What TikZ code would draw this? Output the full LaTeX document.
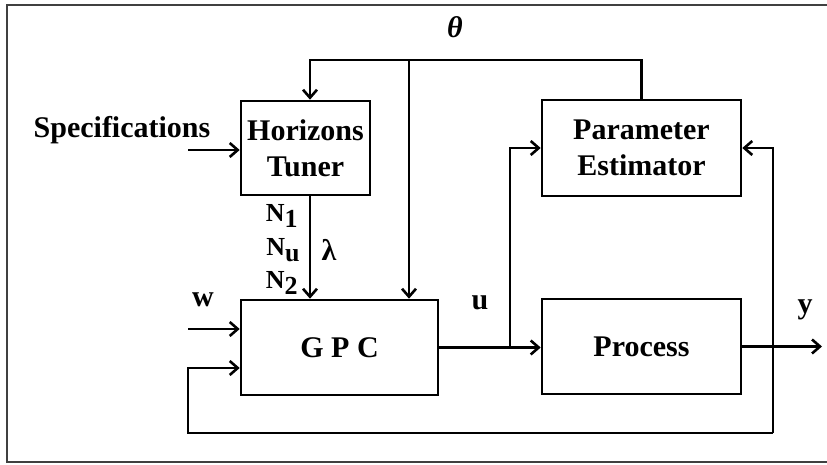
\documentclass[tikz,border=0pt]{standalone}
\usepackage{fontspec}
\setmainfont{Liberation Serif}
\usepackage{tikz}
\usetikzlibrary{arrows.meta,positioning}
\tikzstyle{block} = [draw, line width=1.3pt, rectangle, align=center, inner sep=0pt, font=\fontsize{15}{18}\selectfont\bfseries]
\tikzstyle{arrow} = [-{Straight Barb[length=4pt,width=7pt]}, line width=1.3pt]
\tikzstyle{line} = [line width=1.3pt]
\tikzstyle{lbl} = [inner sep=0pt, font=\fontsize{15}{18}\selectfont\bfseries]
\tikzstyle{sublbl} = [inner sep=0pt, anchor=east, font=\fontsize{13}{15}\selectfont\bfseries]
\newcommand{\Nsub}[1]{N\raisebox{-0.5ex}{#1}}

\begin{document}
\begin{tikzpicture}[x=0.5pt,y=-0.5pt]
\useasboundingbox (0,0) rectangle (827,465);
\draw[black!75, line width=1pt] (827,5) -- (7,5) -- (7,462) -- (827,462);
% blocks
\node[block, minimum width=64.5pt, minimum height=47pt] (tuner) at (305.5,148) {Horizons\\Tuner};
\node[block, minimum width=99.5pt, minimum height=48pt] (est) at (641.5,148) {Parameter\\Estimator};
\node[block, minimum width=98.5pt, minimum height=47.5pt] (gpc) at (339.5,347.5) {G P C};
\node[block, minimum width=99.5pt, minimum height=47.5pt] (proc) at (641.5,346.5) {Process};
% labels
\node[lbl] (spec) at (122,130) {Specifications};
\node[lbl] (theta) at (455,27) {\itshape θ};
\node[sublbl] (n1) at (298,216) {\Nsub{1}};
\node[sublbl] (nu) at (300,250) {\Nsub{u}};
\node[sublbl] (n2) at (298,283) {\Nsub{2}};
\node[lbl] (lam) at (329,250) {λ};
\node[lbl] (w) at (203,300) {w};
\node[lbl] (u) at (480,303) {u};
\node[lbl] (y) at (805,310) {y};
% points
\coordinate (thL) at (310,60);
\coordinate (thM) at (409,60);
\coordinate (sin) at (188,150);
\coordinate (win) at (188,329);
\coordinate (fbin) at (188,368);
\coordinate (ub) at (510,347);
\coordinate (fb) at (773,433);
\coordinate (yout) at (822,347);
% connectors
\draw[arrow] (sin) -- (sin -| tuner.west);
\draw[arrow] (est.north) -- (est.north |- thL) -- (thL) -- (thL |- tuner.north);
\draw[arrow] (thM) -- (thM |- gpc.north);
\draw[arrow] (thL |- tuner.south) -- (thL |- gpc.north);
\draw[arrow] (win) -- (win -| gpc.west);
\draw[arrow] (gpc.east) -- (gpc.east -| proc.west);
\draw[arrow] (ub) |- (est.west);
\draw[arrow] (proc.east) -- (proc.east -| yout);
\draw[arrow] (fb) -- (fb |- est.east) -- (est.east);
\draw[arrow] (fb) -| (fbin) -- (fbin -| gpc.west);
\end{tikzpicture}
\end{document}
